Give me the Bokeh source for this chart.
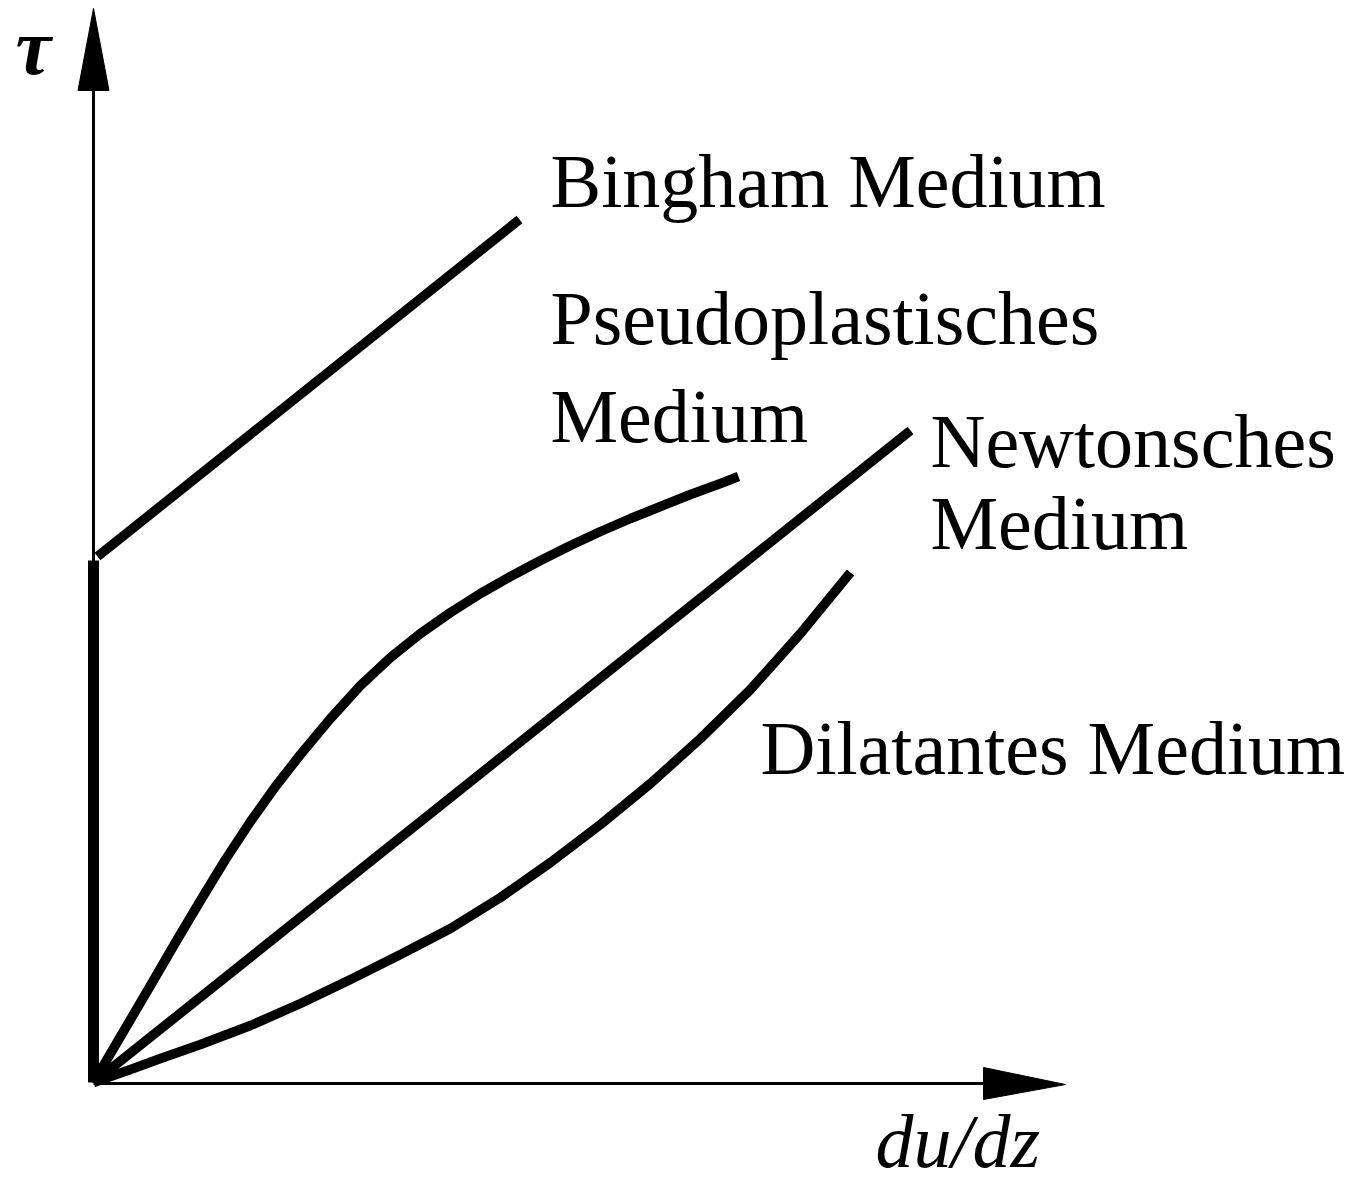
from bokeh.plotting import figure
from bokeh.models import Range1d
from bokeh.embed import file_html
from bokeh.resources import INLINE
from bokeh.core.properties import value

# ---- data (schematic units: 1 unit = 100 px) ----
# Newtonian medium: linear
newton_x = [0.0, 8.17]
newton_y = [0.0, 6.52]

# Bingham medium: yield stress then linear
bingham_yield_x = [0.0, 0.0]
bingham_yield_y = [0.0, 5.22]
bingham_x = [0.04, 4.26]
bingham_y = [5.26, 8.63]

# Pseudoplastic medium (shear thinning)
pseudo_x = [0.00, 0.27, 0.57, 0.82, 1.07, 1.32, 1.57, 1.82, 2.07, 2.37, 2.67, 2.97, 3.27,
            3.57, 3.87, 4.17, 4.47, 4.77, 5.07, 5.37, 5.67, 5.97, 6.27, 6.45]
pseudo_y = [0.00, 0.46, 0.97, 1.40, 1.82, 2.23, 2.61, 2.96, 3.28, 3.64, 3.97, 4.25, 4.49,
            4.70, 4.89, 5.06, 5.22, 5.37, 5.51, 5.64, 5.76, 5.88, 5.99, 6.06]

# Dilatant medium (shear thickening)
dil_x = [0.00, 0.17, 0.37, 0.67, 1.07, 1.57, 2.07, 2.57, 3.07, 3.57, 4.07, 4.57,
         5.07, 5.57, 6.07, 6.57, 7.07, 7.57]
dil_y = [0.00, 0.06, 0.13, 0.24, 0.38, 0.57, 0.79, 1.03, 1.28, 1.54, 1.85, 2.20,
         2.58, 2.99, 3.44, 3.93, 4.49, 5.10]

# axes extents
yaxis_line_end = 9.92
yaxis_end = 10.74
xaxis_line_end = 8.90
xaxis_end = 9.72

W, H = 1350, 1187
p = figure(width=W, height=H, output_backend="svg", toolbar_location=None,
           x_range=Range1d(-0.93, 12.57), y_range=Range1d(-1.05, 10.82),
           min_border=0, x_axis_type=None, y_axis_type=None)
p.grid.visible = False
p.outline_line_color = None
p.background_fill_color = "white"
p.border_fill_color = "white"

# axes lines
p.line([0, 0], [0, yaxis_line_end], line_color="black", line_width=3)
p.line([0, xaxis_line_end], [-0.01, -0.01], line_color="black", line_width=3)
# arrow heads
p.patch([-0.155, 0.155, 0.0], [yaxis_line_end, yaxis_line_end, yaxis_end],
        fill_color="black", line_color="black")
p.patch([xaxis_line_end, xaxis_line_end, xaxis_end], [0.15, -0.17, -0.02],
        fill_color="black", line_color="black")

lw = 9.5
p.line(bingham_yield_x, bingham_yield_y, line_color="black", line_width=11)
p.line(bingham_x, bingham_y, line_color="black", line_width=lw)
p.line(newton_x, newton_y, line_color="black", line_width=lw)
p.line(pseudo_x, pseudo_y, line_color="black", line_width=lw, line_join="round")
p.line(dil_x, dil_y, line_color="black", line_width=lw, line_join="round")

font = value("Liberation Serif")
fs = value("76px")

def label(x, y, t, style="normal", size=fs):
    p.text(x=[x], y=[y], text=[t], text_font=font, text_font_size=size,
           text_align="left", text_baseline="alphabetic", text_color="black",
           text_font_style=style)

label(4.57, 9.02, "Bingham Medium")
label(4.57, 7.65, "Pseudoplastisches")
label(4.57, 6.67, "Medium")
label(8.37, 6.42, "Newtonsches")
label(8.37, 5.60, "Medium")
label(6.67, 3.35, "Dilatantes Medium")
label(7.82, -0.58, "du/dz", style="italic")
label(-0.78, 10.36, "τ", style="bold italic", size=value("80px"))

open("out.html", "w").write(file_html(p, INLINE))
